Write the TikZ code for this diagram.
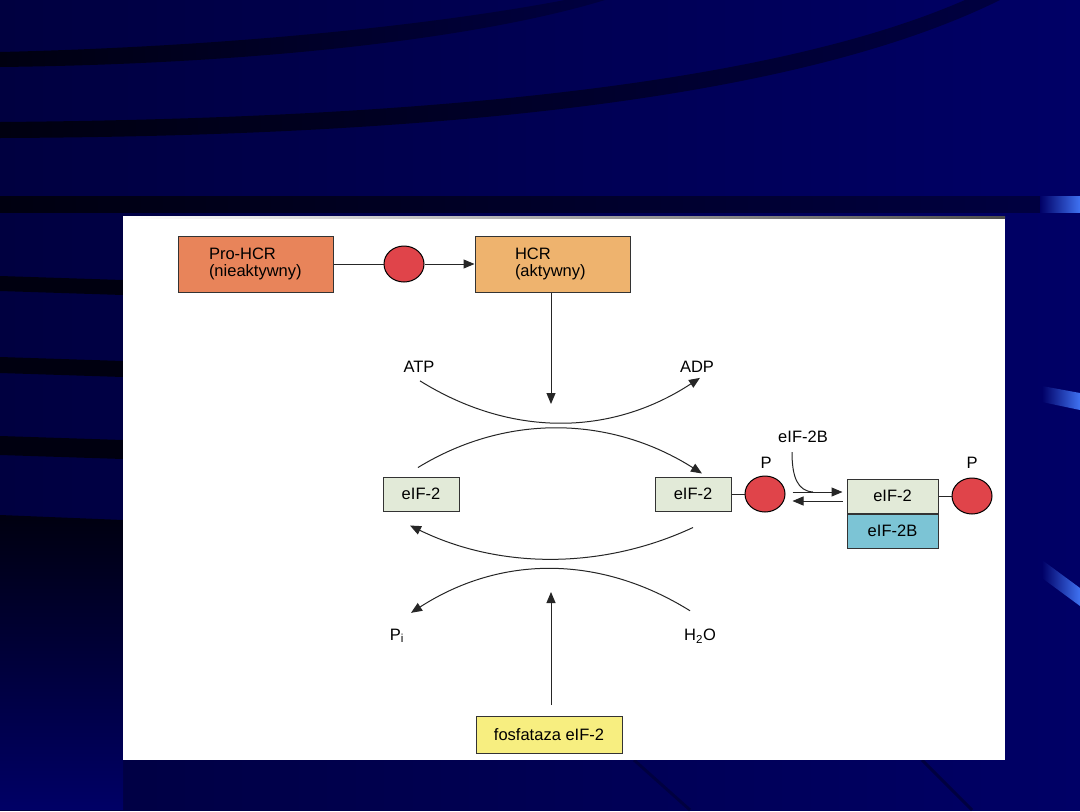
\documentclass[tikz,border=0pt]{standalone}
\usepackage{fontspec}
\setmainfont{Liberation Sans}
\definecolor{SlideNavy}{HTML}{000066}
\definecolor{SlideDark}{HTML}{000040}
\definecolor{BandDark}{HTML}{000010}
\definecolor{TabBlue}{HTML}{3F72F2}
\definecolor{ProOrange}{HTML}{E8845A}
\definecolor{HcrOrange}{HTML}{EEB36E}
\definecolor{EifGreen}{HTML}{E2EAD8}
\definecolor{EifBlue}{HTML}{7CC4D5}
\definecolor{PhosYellow}{HTML}{F7EE80}
\definecolor{PRed}{HTML}{E0444A}
\usetikzlibrary{positioning,shapes.geometric,arrows.meta}

\begin{document}
\begin{tikzpicture}[x=1pt, y=-1pt, font=\fontsize{16.5}{17.5}\selectfont,
    box/.style={draw=black!80, line width=1pt, inner sep=0pt},
    phos/.style={draw=black, line width=1pt, fill=PRed, ellipse, minimum width=40pt, minimum height=36pt, inner sep=0pt},
    lbl/.style={inner sep=0pt},
    link/.style={line width=1pt, draw=black!85},
    tip/.style={link, -{Triangle[length=11pt, width=9pt]}}]
  % slide background
  \shade[left color=SlideDark, right color=SlideNavy] (0,0) rectangle (1080,810);
  \shade[left color=BandDark, right color=SlideDark] (0,52) .. controls (250,46) and (450,22) .. (565,0) -- (605,0) .. controls (480,38) and (260,64) .. (0,67) -- cycle;
  \shade[left color=BandDark, right color=SlideDark] (0,122) .. controls (500,118) and (800,72) .. (965,0) -- (1000,0) .. controls (830,84) and (520,136) .. (0,138) -- cycle;
  \shade[left color=BandDark, right color=SlideDark] (0,196) rectangle (1040,212);
  \shade[left color=SlideNavy, right color=TabBlue] (1040,196) rectangle (1080,212);
  \shade[left color=SlideNavy, right color=TabBlue] (1042,386) -- (1080,393) -- (1080,410) -- (1042,402) -- cycle;
  \shade[left color=SlideNavy, right color=TabBlue] (1042,560) -- (1080,588) -- (1080,606) -- (1042,578) -- cycle;
  \fill[BandDark] (0,276) -- (123,280) -- (123,295) -- (0,291) -- cycle;
  \fill[BandDark] (0,357) -- (123,361) -- (123,377) -- (0,373) -- cycle;
  \fill[BandDark] (0,436) -- (123,440) -- (123,459) -- (0,455) -- cycle;
  \shade[top color=BandDark, bottom color=SlideNavy] (0,515) -- (123,520) -- (123,810) -- (0,810) -- cycle;
  \draw[SlideDark, line width=3pt] (634,760) -- (690,810) (922,760) -- (972,810);
  % picture panel
  \fill[white] (123,217) rectangle (1005,760);
  \shade[left color=white, right color=black!70] (123,216) rectangle (1005,218.5);

  % HCR activation
  \node[box, fill=ProOrange, minimum width=155pt, minimum height=56pt, text width=93pt, align=left] (pro) at (255.5,264) {Pro-HCR\\(nieaktywny)};
  \node[phos] (c1) at (404,264) {};
  \node[box, fill=HcrOrange, minimum width=155pt, minimum height=56pt, text width=75pt, align=left] (hcr) at (552.5,264) {HCR\\(aktywny)};
  \draw[link] (pro) -- (c1);
  \draw[tip] (c1) -- (hcr);
  \coordinate (hcrtip) at (551,404);
  \draw[tip] (hcrtip |- hcr.south) -- (hcrtip);

  % eIF-2 cycle
  \node[box, fill=EifGreen, minimum width=76pt, minimum height=34pt] (eifL) at (421,494) {eIF-2};
  \node[box, fill=EifGreen, minimum width=76pt, minimum height=34pt] (eifR) at (693,494) {eIF-2};
  \node[phos] (pR) at (765,494) {};
  \node[lbl] (pRl) at (766,463) {P};
  \draw[link] (eifR) -- (pR);
  \node[lbl] (atp) at (419,367) {ATP};
  \node[lbl] (adp) at (697,367) {ADP};
  \node[lbl] (pi) at (397,636) {P\textsubscript{i}};
  \node[lbl] (h2o) at (700,636) {H\textsubscript{2}O};
  \draw[tip] ([shift={(1pt,-8pt)}]atp.south) .. controls +(90,56) and +(-90,59) .. ([shift={(3pt,-5pt)}]adp.south);
  \draw[tip] ([shift={(-3pt,9pt)}]eifL.north) .. controls +(90,-55) and +(-90,-57) .. ([shift={(9pt,3pt)}]eifR.north);
  \draw[tip] ([yshift=-16pt]eifR.south) .. controls +(-90,42) and +(90,44) .. ([shift={(-11pt,-14pt)}]eifL.south);
  \draw[tip] ([shift={(-10pt,18pt)}]h2o.north) .. controls +(-90,-56) and +(90,-58) .. ([shift={(14pt,16pt)}]pi.north);

  % phosphatase
  \node[box, fill=PhosYellow, minimum width=146pt, minimum height=37pt] (fosf) at (549,735) {fosfataza eIF-2};
  \coordinate (fostip) at (551,592);
  \draw[tip, shorten <=11pt] (fostip |- fosf.north) -- (fostip);

  % eIF-2B complex
  \node[box, fill=EifGreen, minimum width=91pt, minimum height=34pt] (cTop) at (892.5,496) {eIF-2};
  \node[box, fill=EifBlue, minimum width=91pt, minimum height=34pt, below=0pt of cTop] (cBot) {eIF-2B};
  \node[phos] (pC) at (972,496) {};
  \node[lbl] (pCl) at (972,463) {P};
  \draw[link] (cTop) -- (pC);
  \draw[tip] ([shift={(7pt,2pt)}]pR.east) -- ([shift={(-4pt,4pt)}]cTop.west);
  \draw[tip] ([shift={(-4pt,-5pt)}]cTop.west) -- ([shift={(7pt,-7pt)}]pR.east);
  \node[lbl] (b2) at (803,437) {eIF-2B};
  \coordinate (b2join) at (813,492);
  \draw[link] ([shift={(-11pt,-9pt)}]b2.south) .. controls (792,478) and (798,491) .. (b2join);
\end{tikzpicture}
\end{document}
